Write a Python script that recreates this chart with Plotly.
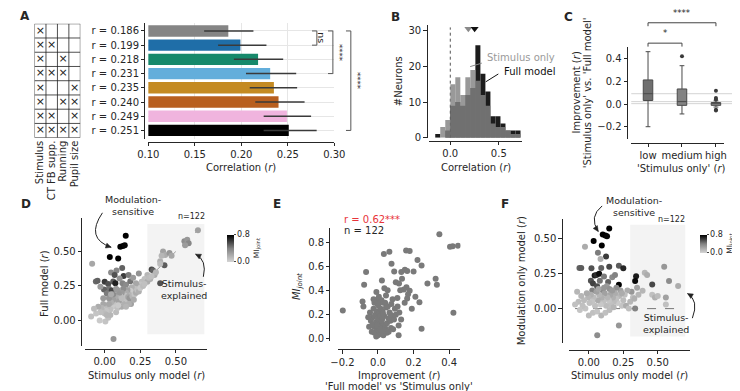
import math
import plotly.graph_objects as go

W, H = 740, 391
FONT = "DejaVu Sans"
INK = "#262626"


def fx(p):
    return p / W


def fy(p):
    return 1 - p / H


# ---------------- data ----------------
MODEL_FEATURES = ["Stimulus", "CT FB supp.", "Running", "Pupil size"]
MODEL_INCLUDES = [
    [1, 0, 0, 0],
    [1, 1, 0, 0],
    [1, 0, 1, 0],
    [1, 1, 1, 0],
    [1, 0, 0, 1],
    [1, 0, 1, 1],
    [1, 1, 0, 1],
    [1, 1, 1, 1],
]
BAR_R = [0.186, 0.199, 0.218, 0.231, 0.235, 0.240, 0.249, 0.251]
BAR_CI_LOW = [0.160, 0.175, 0.192, 0.205, 0.209, 0.215, 0.224, 0.224]
BAR_CI_HIGH = [0.213, 0.227, 0.245, 0.259, 0.260, 0.268, 0.275, 0.281]
BAR_COLORS = ["#858585", "#1f6ea8", "#17896b", "#63aedb",
              "#c48a22", "#b85f1f", "#f0b4de", "#000000"]
BAR_TICKS = [0.10, 0.15, 0.20, 0.25, 0.30]
BAR_SIG = [(0, 1, "ns"), (0, 3, "****"), (0, 7, "****")]

HIST_BIN_START = -0.155
HIST_BIN_WIDTH = 0.0517
HIST_STIM = [0, 3, 5, 15, 17, 12, 17, 19, 16, 12, 9, 4, 3, 3, 2, 1, 1]
HIST_FULL = [1, 0, 2, 9, 10, 9, 12, 14, 26, 18, 13, 6, 6, 4, 2, 2, 2]

BOX_CATS = ["low", "medium", "high"]
BOX_Q1 = [0.032, -0.011, -0.011]
BOX_MED = [0.092, 0.022, 0.004]
BOX_Q3 = [0.214, 0.134, 0.014]
BOX_LO = [-0.200, -0.087, -0.026]
BOX_HI = [0.464, 0.340, 0.029]
BOX_COLORS = ["#6f6f6f", "#838383", "#8c8c8c"]
BOX_OUT_CAT = [1, 2, 2, 2, 2, 2]
BOX_OUT_VAL = [0.423, 0.119, 0.055, 0.040, -0.049, -0.057]

# D: stimulus-only r, full-model r, MI_joint
D_STIM = [0.148, 0.110, 0.128, 0.141, 0.036, 0.095, -0.088, 0.123, 0.083, 0.045,
          0.070, 0.133, 0.168, -0.062, -0.050, 0.000, 0.025, 0.060, 0.075, 0.030,
          0.050, -0.005, 0.015, 0.125, 0.150, 0.180, 0.240, 0.330, 0.340, 0.390,
          0.420, 0.200, 0.105, -0.030, 0.090,
          0.390, 0.410, 0.425, 0.455, 0.470, 0.400, 0.560, 0.580, 0.590, 0.565,
          0.655, 0.390, 0.300, 0.320, 0.280, 0.260, 0.250, 0.300, 0.350, 0.230,
          0.220, 0.210, 0.190, 0.200, 0.180, 0.170, 0.160, 0.150, 0.140, 0.130,
          0.120, 0.110, 0.100, 0.095, 0.085, 0.075, 0.070, 0.060, 0.055, 0.045,
          0.040, 0.030, 0.020, 0.010, 0.000, -0.010, -0.020, -0.030, -0.045, -0.060,
          -0.075, -0.095, -0.035, 0.005, 0.025, 0.040, 0.062, 0.080, 0.090, 0.110,
          0.120, 0.130, 0.140, 0.160, 0.165, 0.175, 0.185, 0.195, 0.210, 0.220,
          0.230, 0.240, 0.250, 0.270, 0.280, 0.100, 0.060, 0.030, -0.010, 0.120,
          0.170, 0.150, 0.205, 0.080, 0.045, 0.015, 0.095, 0.310, 0.360, 0.330]
D_FULL = [0.615, 0.535, 0.540, 0.545, 0.460, 0.450, 0.412, 0.380, 0.362, 0.348,
          0.330, 0.322, 0.330, 0.283, 0.288, 0.280, 0.265, 0.282, 0.270, 0.230,
          0.218, 0.225, 0.195, 0.270, 0.258, 0.285, 0.340, 0.370, 0.362, 0.270,
          0.400, 0.310, 0.305, 0.245, 0.220,
          0.430, 0.500, 0.475, 0.490, 0.470, 0.470, 0.575, 0.585, 0.560, 0.545,
          0.655, 0.410, 0.330, 0.300, 0.300, 0.280, 0.260, 0.280, 0.330, 0.250,
          0.270, 0.230, 0.240, 0.200, 0.215, 0.190, 0.220, 0.200, 0.180, 0.230,
          0.200, 0.175, 0.190, 0.160, 0.140, 0.170, 0.120, 0.150, 0.100, 0.130,
          0.080, 0.160, 0.100, 0.070, 0.050, 0.120, 0.090, 0.060, 0.100, 0.050,
          0.085, 0.028, 0.000, -0.008, 0.020, 0.040, -0.135, 0.060, 0.090, 0.120,
          0.100, 0.140, 0.120, 0.150, 0.170, 0.160, 0.120, 0.175, 0.190, 0.200,
          0.220, 0.210, 0.235, 0.250, 0.265, 0.140, 0.190, 0.120, 0.160, 0.160,
          0.120, 0.100, 0.150, 0.230, 0.190, 0.040, 0.110, 0.310, 0.350, 0.320]
D_MI = [0.80, 0.80, 0.85, 0.78, 0.80, 0.83, 0.22, 0.50, 0.38, 0.35,
        0.55, 0.62, 0.42, 0.48, 0.50, 0.62, 0.55, 0.52, 0.70, 0.45,
        0.58, 0.50, 0.42, 0.40, 0.36, 0.45, 0.32, 0.58, 0.50, 0.55,
        0.52, 0.28, 0.32, 0.28, 0.28,
        0.18, 0.25, 0.20, 0.30, 0.22, 0.15, 0.35, 0.30, 0.38, 0.28,
        0.25, 0.12, 0.15, 0.18, 0.10, 0.12, 0.08, 0.20, 0.20, 0.15,
        0.22, 0.10, 0.18, 0.12, 0.05, 0.15, 0.25, 0.20, 0.10, 0.35,
        0.28, 0.12, 0.30, 0.15, 0.08, 0.20, 0.10, 0.25, 0.05, 0.18,
        0.10, 0.30, 0.12, 0.08, 0.12, 0.22, 0.15, 0.10, 0.20, 0.08,
        0.12, 0.10, 0.05, 0.08, 0.10, 0.15, 0.30, 0.12, 0.10, 0.15,
        0.20, 0.08, 0.18, 0.10, 0.22, 0.30, 0.25, 0.15, 0.08, 0.20,
        0.10, 0.18, 0.06, 0.12, 0.10, 0.25, 0.35, 0.22, 0.28, 0.12,
        0.18, 0.15, 0.20, 0.28, 0.20, 0.15, 0.05, 0.12, 0.15, 0.10]

# E: improvement (full - stimulus only), MI_joint
E_IMPR = [0.345, 0.405, 0.420, 0.450, 0.424, 0.033, 0.064, 0.158, 0.178, 0.076,
          0.222, 0.245, -0.067, 0.091, 0.131, 0.151, 0.164, 0.200, 0.022, -0.078,
          0.100, 0.135, 0.118, 0.160, 0.178, 0.145, 0.125, 0.278, 0.324, 0.331,
          -0.009, 0.036, 0.054, -0.087, -0.082, -0.198, 0.233, 0.082, 0.109, 0.169,
          0.164, 0.116, 0.116, 0.245, 0.073, 0.000, 0.030,
          -0.045, -0.030, -0.020, -0.010, 0.000, 0.010, 0.020, 0.030, 0.040, -0.025,
          -0.015, -0.005, 0.005, 0.015, 0.025, 0.035, 0.045, 0.055, 0.065, -0.040,
          -0.030, -0.020, -0.010, 0.000, 0.010, 0.020, 0.030, 0.040, 0.050, 0.060,
          -0.035, -0.020, -0.005, 0.010, 0.020, 0.035, 0.050, -0.010, 0.005, 0.015,
          -0.050, -0.055, 0.070, 0.080, 0.090, 0.085, 0.095, 0.100, 0.110, 0.120,
          0.130, 0.075, 0.060, 0.025, -0.025, 0.005, 0.045, 0.150, 0.190, 0.210,
          0.070, -0.005, 0.012, 0.028]
E_MI = [0.870, 0.765, 0.770, 0.775, 0.218, 0.705, 0.725, 0.735, 0.730, 0.625,
        0.655, 0.610, 0.555, 0.560, 0.555, 0.575, 0.565, 0.560, 0.485, 0.450,
        0.470, 0.500, 0.460, 0.430, 0.400, 0.410, 0.405, 0.460, 0.500, 0.450,
        0.390, 0.420, 0.405, 0.310, 0.270, 0.235, 0.305, 0.330, 0.340, 0.370,
        0.335, 0.110, 0.030, 0.085, 0.090, 0.030, 0.030,
        0.220, 0.180, 0.300, 0.320, 0.280, 0.300, 0.320, 0.300, 0.300, 0.250,
        0.200, 0.230, 0.210, 0.250, 0.230, 0.190, 0.260, 0.270, 0.220, 0.150,
        0.120, 0.100, 0.140, 0.170, 0.120, 0.150, 0.110, 0.090, 0.130, 0.170,
        0.060, 0.050, 0.080, 0.060, 0.040, 0.070, 0.050, 0.020, 0.100, 0.190,
        0.100, 0.180, 0.150, 0.190, 0.160, 0.080, 0.250, 0.200, 0.270, 0.220,
        0.160, 0.290, 0.060, 0.170, 0.330, 0.350, 0.360, 0.300, 0.250, 0.350,
        0.200, 0.110, 0.080, 0.210]

# F: stimulus-only r, modulation-only r, MI_joint
F_STIM = [0.148, 0.101, 0.120, 0.132, 0.035, -0.028, 0.094, 0.066, 0.125, 0.085,
          -0.068, -0.055, 0.019, 0.090, 0.148, 0.218, 0.250, 0.042, 0.055, 0.075,
          0.015, 0.030, 0.060, 0.080, 0.110, 0.140, 0.170, 0.190, 0.218, 0.343,
          0.336, 0.460, 0.100, 0.130, 0.150, 0.025,
          0.406, 0.423, 0.547, 0.582, 0.648, 0.390, 0.460, 0.480, 0.500, 0.559,
          0.559, 0.336, 0.218, 0.061, 0.350, 0.360, 0.320, 0.300, 0.310, 0.280,
          0.260, 0.250, 0.240, 0.230, 0.220, 0.210, 0.200, 0.190, 0.180, 0.175,
          0.160, 0.155, 0.145, 0.135, 0.125, 0.115, 0.105, 0.095, 0.085, 0.075,
          0.065, 0.055, 0.045, 0.035, 0.025, 0.015, 0.005, -0.005, -0.015, -0.025,
          -0.035, -0.045, -0.055, -0.065, -0.075, -0.085, -0.100, 0.000, 0.030, 0.060,
          0.090, 0.120, 0.150, 0.180, 0.270, 0.290, 0.330, 0.110, 0.200, 0.240,
          0.070, 0.170]
F_MOD = [0.573, 0.530, 0.523, 0.518, 0.483, 0.443, 0.452, 0.400, 0.373, 0.355,
         0.290, 0.290, 0.288, 0.290, 0.300, 0.307, 0.288, 0.236, 0.240, 0.250,
         0.200, 0.180, 0.160, 0.200, 0.230, 0.190, 0.225, 0.240, 0.171, 0.232,
         0.197, 0.172, 0.130, 0.160, 0.140, 0.130,
         0.256, 0.240, 0.300, 0.197, 0.162, 0.127, 0.100, 0.080, 0.090, 0.080,
         0.030, 0.000, -0.120, -0.190, 0.150, 0.100, 0.080, 0.050, 0.120, 0.130,
         0.100, 0.060, 0.020, 0.130, 0.090, 0.040, 0.070, 0.110, 0.050, 0.080,
         0.030, 0.100, 0.060, 0.080, 0.020, 0.110, 0.050, 0.080, 0.030, 0.100,
         0.060, 0.120, 0.020, 0.080, 0.050, 0.100, 0.040, 0.080, 0.110, 0.000,
         0.060, 0.020, 0.090, -0.010, 0.050, 0.120, 0.030, -0.050, -0.030, -0.020,
         -0.050, -0.030, -0.010, 0.010, 0.020, 0.000, 0.070, 0.150, 0.150, 0.110,
         0.140, 0.130]
F_MI = [0.82, 0.80, 0.84, 0.78, 0.80, 0.20, 0.83, 0.42, 0.62, 0.18,
        0.50, 0.52, 0.55, 0.50, 0.58, 0.52, 0.68, 0.72, 0.66, 0.76,
        0.55, 0.60, 0.56, 0.45, 0.42, 0.50, 0.36, 0.40, 0.80, 0.72,
        0.78, 0.58, 0.36, 0.28, 0.32, 0.40,
        0.15, 0.20, 0.30, 0.35, 0.20, 0.15, 0.10, 0.18, 0.12, 0.25,
        0.10, 0.40, 0.30, 0.35, 0.25, 0.15, 0.10, 0.15, 0.30, 0.20,
        0.10, 0.12, 0.08, 0.25, 0.15, 0.05, 0.10, 0.20, 0.12, 0.18,
        0.10, 0.22, 0.08, 0.15, 0.12, 0.25, 0.10, 0.18, 0.06, 0.15,
        0.20, 0.25, 0.10, 0.12, 0.08, 0.18, 0.10, 0.15, 0.20, 0.08,
        0.12, 0.10, 0.15, 0.08, 0.12, 0.15, 0.10, 0.12, 0.10, 0.08,
        0.15, 0.10, 0.12, 0.15, 0.20, 0.10, 0.18, 0.30, 0.35, 0.20,
        0.22, 0.28]

N_NEURONS = 122
E_CORR_TEXT = "r = 0.62***"

# ---------------- helpers ----------------
TICKFONT = dict(family=FONT, size=10, color=INK)
TICKFONT2 = dict(family=FONT, size=10, color=INK)


def xaxis(d0, d1, rng, spine_y, font=TICKFONT, **kw):
    a = dict(domain=[fx(d0), fx(d1)], range=rng, anchor="free", position=fy(spine_y),
             showline=True, linecolor=INK, linewidth=0.8, ticks="outside", ticklen=3.5,
             tickwidth=0.8, tickcolor=INK, showgrid=False, zeroline=False, tickfont=font)
    a.update(kw)
    return a


def yaxis(d0, d1, rng, spine_x, font=TICKFONT, **kw):
    a = dict(domain=[fy(d1), fy(d0)], range=rng, anchor="free", position=fx(spine_x),
             showline=True, linecolor=INK, linewidth=0.8, ticks="outside", ticklen=3.5,
             tickwidth=0.8, tickcolor=INK, showgrid=False, zeroline=False, tickfont=font)
    a.update(kw)
    return a


annotations = []
shapes = []


def text(x, y, s, size=10, color=INK, angle=0, xanchor="center", yanchor="middle", bold=False):
    if bold:
        s = "<b>" + s + "</b>"
    annotations.append(dict(x=fx(x), y=fy(y), xref="paper", yref="paper", text=s,
                            showarrow=False, textangle=angle, xanchor=xanchor,
                            yanchor=yanchor, font=dict(family=FONT, size=size, color=color)))


def pline(x0, y0, x1, y1, color=INK, width=1, dash=None):
    ln = dict(color=color, width=width)
    if dash:
        ln["dash"] = dash
    shapes.append(dict(type="line", xref="paper", yref="paper", x0=fx(x0), y0=fy(y0),
                       x1=fx(x1), y1=fy(y1), line=ln))


def curve_arrow(p0, c, p1):
    path = "M {},{} Q {},{} {},{}".format(fx(p0[0]), fy(p0[1]), fx(c[0]), fy(c[1]),
                                         fx(p1[0]), fy(p1[1]))
    shapes.append(dict(type="path", xref="paper", yref="paper", path=path,
                       line=dict(color="#222", width=1)))
    dx, dy = p1[0] - c[0], p1[1] - c[1]
    n = math.hypot(dx, dy)
    ux, uy = dx / n, dy / n
    bx, by = p1[0] - ux * 5.5, p1[1] - uy * 5.5
    px_, py_ = -uy * 2.6, ux * 2.6
    head = "M {},{} L {},{} L {},{} Z".format(fx(p1[0]), fy(p1[1]), fx(bx + px_), fy(by + py_),
                                              fx(bx - px_), fy(by - py_))
    shapes.append(dict(type="path", xref="paper", yref="paper", path=head,
                       fillcolor="#222", line=dict(color="#222", width=0.5)))


fig = go.Figure()

# ---------------- A: model table ----------------
tx, ty = [], []
for r, row in enumerate(MODEL_INCLUDES):
    for c, v in enumerate(row):
        if v:
            tx.append(c)
            ty.append(r)
fig.add_trace(go.Scatter(x=tx, y=ty, mode="text", text=["×"] * len(tx), xaxis="x7", yaxis="y7",
                         textfont=dict(family=FONT, size=11, color="#222"),
                         hoverinfo="skip", showlegend=False))
nr, nc = len(MODEL_INCLUDES), len(MODEL_FEATURES)
for c in range(nc + 1):
    shapes.append(dict(type="line", xref="x7", yref="y7", x0=c - 0.5, x1=c - 0.5,
                       y0=-0.5, y1=nr - 0.5, line=dict(color="#222", width=0.8)))
for r in range(nr + 1):
    shapes.append(dict(type="line", xref="x7", yref="y7", x0=-0.5, x1=nc - 0.5,
                       y0=r - 0.5, y1=r - 0.5, line=dict(color="#222", width=0.8)))

# ---------------- A: bars ----------------
fig.add_trace(go.Bar(
    x=BAR_R, y=list(range(len(BAR_R))), orientation="h", width=0.8,
    marker=dict(color=BAR_COLORS, line=dict(width=0)),
    error_x=dict(type="data", symmetric=False,
                 array=[h - v for h, v in zip(BAR_CI_HIGH, BAR_R)],
                 arrayminus=[v - l for l, v in zip(BAR_CI_LOW, BAR_R)],
                 color="#3a3a3a", thickness=1.5, width=0),
    xaxis="x", yaxis="y", showlegend=False, hoverinfo="skip"))

sig_x = [(302, 307, 312), (318.5, 323.5, 330), (337, 342, 349)]
for (i0, i1, lab), (xa, xb, xt) in zip(BAR_SIG, sig_x):
    ln = dict(color="#555", width=1)
    shapes.append(dict(type="line", xref="paper", yref="y", x0=fx(xb), x1=fx(xb), y0=i0, y1=i1, line=ln))
    shapes.append(dict(type="line", xref="paper", yref="y", x0=fx(xa), x1=fx(xb), y0=i0, y1=i0, line=ln))
    shapes.append(dict(type="line", xref="paper", yref="y", x0=fx(xa), x1=fx(xb), y0=i1, y1=i1, line=ln))
    annotations.append(dict(x=fx(xt), y=(i0 + i1) / 2, xref="paper", yref="y", text=lab,
                            showarrow=False, textangle=90,
                            font=dict(family=FONT, size=9.5 if lab == "ns" else 8.5, color=INK)))

# ---------------- B: histogram ----------------
centers = [HIST_BIN_START + HIST_BIN_WIDTH * (i + 0.5) for i in range(len(HIST_FULL))]
fig.add_trace(go.Bar(x=centers, y=HIST_FULL, width=HIST_BIN_WIDTH, marker=dict(color="#1c1c1c", line=dict(width=0)),
                     xaxis="x2", yaxis="y2", showlegend=False, hoverinfo="skip"))
fig.add_trace(go.Bar(x=centers, y=HIST_STIM, width=HIST_BIN_WIDTH,
                     marker=dict(color="rgba(131,131,131,0.82)", line=dict(width=0)),
                     xaxis="x2", yaxis="y2", showlegend=False, hoverinfo="skip"))
fig.add_trace(go.Scatter(x=[BAR_R[0], BAR_R[-1]], y=[30.6, 30.6], mode="markers",
                         marker=dict(symbol="triangle-down", size=7, color=["#8a8a8a", "#111"]),
                         cliponaxis=False, xaxis="x2", yaxis="y2", showlegend=False, hoverinfo="skip"))
shapes.append(dict(type="line", xref="x2", yref="y2", x0=0, x1=0, y0=0, y1=31,
                   line=dict(color="#555", width=1, dash="dot"), layer="below"))
pline(465, 59.5, 477, 56, color="#8a8a8a")
text(480, 50, "Stimulus only", color="#9a9a9a", xanchor="left")
pline(481, 75, 494, 67, color="#111")
text(498, 64, "Full model", color="#111", xanchor="left")

# ---------------- C: boxes ----------------
for i in range(len(BOX_CATS)):
    fig.add_trace(go.Box(x=[i], q1=[BOX_Q1[i]], median=[BOX_MED[i]], q3=[BOX_Q3[i]],
                         lowerfence=[BOX_LO[i]], upperfence=[BOX_HI[i]], width=0.28,
                         fillcolor=BOX_COLORS[i], line=dict(color="#4a4a4a", width=1),
                         whiskerwidth=0.5, boxpoints=False, xaxis="x3", yaxis="y3",
                         showlegend=False, hoverinfo="skip"))
fig.add_trace(go.Scatter(x=BOX_OUT_CAT, y=BOX_OUT_VAL, mode="markers",
                         marker=dict(size=4, color="#3a3a3a"), xaxis="x3", yaxis="y3",
                         showlegend=False, hoverinfo="skip"))
for m in BOX_MED:
    shapes.append(dict(type="line", xref="paper", yref="y3", x0=fx(631), x1=fx(737), y0=m, y1=m,
                       line=dict(color="#d4d4d4", width=1), layer="below"))
for (a, b, ybar, lab) in [(0, 1, 35.7, "*"), (0, 2, 15, "****")]:
    ln = dict(color="#444", width=1)
    shapes.append(dict(type="line", xref="x3", yref="paper", x0=a, x1=b, y0=fy(ybar), y1=fy(ybar), line=ln))
    shapes.append(dict(type="line", xref="x3", yref="paper", x0=a, x1=a, y0=fy(ybar), y1=fy(ybar + 3.5), line=ln))
    shapes.append(dict(type="line", xref="x3", yref="paper", x0=b, x1=b, y0=fy(ybar), y1=fy(ybar + 3.5), line=ln))
    annotations.append(dict(x=(a + b) / 2, y=fy(ybar - 3), xref="x3", yref="paper", text=lab,
                            showarrow=False, yanchor="bottom",
                            font=dict(family=FONT, size=8.5, color=INK)))

# ---------------- D ----------------
GREYS = [[0, "#d4d4d4"], [0.5, "#838383"], [1, "#000000"]]
shapes.append(dict(type="rect", xref="x4", yref="y4", x0=0.3, x1=0.7, y0=-0.1, y1=0.7,
                   fillcolor="#f3f3f3", line=dict(width=0), layer="below"))
fig.add_trace(go.Scatter(x=[0, 0.66], y=[0, 0.66], mode="lines", line=dict(color="#999", width=1, dash="dash"),
                         xaxis="x4", yaxis="y4", showlegend=False, hoverinfo="skip"))
fig.add_trace(go.Scatter(x=D_STIM, y=D_FULL, mode="markers",
                         marker=dict(size=6, color=D_MI, coloraxis="coloraxis"),
                         xaxis="x4", yaxis="y4", showlegend=False, hoverinfo="skip"))

# ---------------- E ----------------
fig.add_trace(go.Scatter(x=E_IMPR, y=E_MI, mode="markers", marker=dict(size=6, color="#7a7a7a"),
                         xaxis="x5", yaxis="y5", showlegend=False, hoverinfo="skip"))

# ---------------- F ----------------
shapes.append(dict(type="rect", xref="x6", yref="y6", x0=0.3, x1=0.7, y0=-0.2, y1=0.6,
                   fillcolor="#f3f3f3", line=dict(width=0), layer="below"))
fig.add_trace(go.Scatter(x=[-0.1, 0.66], y=[0, 0], mode="lines", line=dict(color="#777", width=1, dash="dash"),
                         xaxis="x6", yaxis="y6", showlegend=False, hoverinfo="skip"))
fig.add_trace(go.Scatter(x=F_STIM, y=F_MOD, mode="markers",
                         marker=dict(size=6, color=F_MI, coloraxis="coloraxis2"),
                         xaxis="x6", yaxis="y6", showlegend=False, hoverinfo="skip"))


def cbar(x, y0, y1):
    return dict(x=fx(x), xanchor="left", y=fy(y0), yanchor="top", len=y1 - y0, lenmode="pixels",
                thickness=7, thicknessmode="pixels", outlinewidth=0, tickvals=[0, 0.8],
                ticktext=["0.0", "0.8"], ticks="outside", ticklen=2, tickwidth=0.8,
                tickfont=dict(family=FONT, size=8, color=INK),
                title=dict(text="MI<sub>joint</sub>", side="right", font=dict(family=FONT, size=7.5, color=INK)))


# ---------------- texts ----------------
text(6, 8, "A", size=12, bold=True)
text(388, 9, "B", size=12, bold=True)
text(566, 9, "C", size=12, bold=True)
text(7, 199, "D", size=12, bold=True)
text(266, 199, "E", size=12, bold=True)
text(501, 199, "F", size=12, bold=True)

text(229, 162, "Correlation (<i>r</i>)")
text(392, 74, "#Neurons", angle=-90)
text(471, 162, "Correlation (<i>r</i>)")
text(575, 86, "Improvement (<i>r</i>)", angle=-90)
text(586, 86, "'Stimulus only' vs. 'Full model'", angle=-90)
text(683, 163, "'Stimulus only' (<i>r</i>)")

text(27, 280, "Full model (<i>r</i>)", angle=-90)
text(131, 373, "Stimulus only model (<i>r</i>)")
text(117, 201, "Modulation-<br>sensitive", size=9.5)
text(170, 286, "Stimulus-<br>explained", size=9.5)
text(178, 212, "n=" + str(N_NEURONS), size=8)
curve_arrow((86, 208), (68, 234), (95, 243))
curve_arrow((190, 273), (194, 256), (182, 250))

text(287, 283, "<i>MI<sub>joint</sub></i>", angle=-90)
text(392, 373.5, "Improvement (<i>r</i>)")
text(392, 384.5, "'Full model' vs 'Stimulus only'")
text(333, 215, E_CORR_TEXT, color="#e8343a", xanchor="left")
text(333, 226, "n = " + str(N_NEURONS), xanchor="left")

text(518, 277, "Modulation only model (<i>r</i>)", angle=-90)
text(629, 373, "Stimulus only model (<i>r</i>)")
text(634, 202, "Modulation-<br>sensitive", size=9.5)
text(667, 320, "Stimulus-<br>explained", size=9.5)
text(673, 215, "n=" + str(N_NEURONS), size=8)
curve_arrow((601, 201), (587, 212), (597, 227))
curve_arrow((694, 315), (701, 297), (689, 290))

fig.update_layout(
    width=W, height=H, margin=dict(l=0, r=0, t=0, b=0),
    paper_bgcolor="white", plot_bgcolor="rgba(0,0,0,0)",
    font=dict(family=FONT, size=10, color=INK),
    barmode="overlay", boxmode="overlay", showlegend=False,
    xaxis7=dict(domain=[fx(16), fx(63.2)], range=[-0.5, nc - 0.5], anchor="y7",
                showline=False, showgrid=False, zeroline=False, ticks="",
                tickvals=list(range(nc)), ticktext=MODEL_FEATURES, tickangle=-90, tickfont=TICKFONT),
    yaxis7=dict(domain=[fy(131.7), fy(16)], range=[nr - 0.5, -0.5], anchor="x7", visible=False),
    xaxis=xaxis(133.3, 325, [0.1, 0.3], 136, tickvals=BAR_TICKS,
                ticktext=["%.2f" % t for t in BAR_TICKS], showgrid=True, gridcolor="#e6e6e6", gridwidth=0.8),
    yaxis=yaxis(15, 133, [len(BAR_R) - 0.4, -0.575], 129.3, tickvals=list(range(len(BAR_R))),
                ticktext=["r = %.3f" % v for v in BAR_R], showgrid=True, gridcolor="#e6e6e6", gridwidth=0.8),
    xaxis2=xaxis(423, 518, [-0.215, 0.735], 135, tickvals=[0, 0.5], ticktext=["0.0", "0.5"]),
    yaxis2=yaxis(17, 131.7, [0, 31.75], 420, tickvals=[0, 10, 20, 30]),
    xaxis3=xaxis(631, 726.7, [-0.494, 2.24], 136.7, tickvals=[0, 1, 2], ticktext=BOX_CATS),
    yaxis3=yaxis(40, 133.3, [-0.311, 0.502], 626.7, tickvals=[-0.2, 0, 0.2, 0.4],
                 ticktext=["\u22120.2", "0.0", "0.2", "0.4"]),
    xaxis4=xaxis(68.3, 193.3, [-0.1363, 0.7157], 346, font=TICKFONT2, tickvals=[0, 0.25, 0.5],
                 ticktext=["0.00", "0.25", "0.50"]),
    yaxis4=yaxis(213, 343.3, [-0.1857, 0.745], 64, font=TICKFONT2, tickvals=[0, 0.25, 0.5],
                 ticktext=["0.00", "0.25", "0.50"]),
    xaxis5=xaxis(328.3, 455, [-0.2275, 0.4637], 346.7, font=TICKFONT2, tickvals=[-0.2, 0, 0.2, 0.4],
                 ticktext=["\u22120.2", "0.0", "0.2", "0.4"]),
    yaxis5=yaxis(223.3, 338.3, [-0.0188, 0.923], 320, font=TICKFONT2, tickvals=[0, 0.2, 0.4, 0.6, 0.8],
                 ticktext=["0.0", "0.2", "0.4", "0.6", "0.8"]),
    xaxis6=xaxis(567.3, 691.7, [-0.1408, 0.7352], 347.3, font=TICKFONT2, tickvals=[0, 0.25, 0.5],
                 ticktext=["0.00", "0.25", "0.50"]),
    yaxis6=yaxis(214, 340, [-0.2444, 0.643], 559.3, font=TICKFONT2, tickvals=[0, 0.25, 0.5],
                 ticktext=["0.00", "0.25", "0.50"]),
    coloraxis=dict(colorscale=GREYS, cmin=0, cmax=0.8, colorbar=cbar(204, 220, 266.7)),
    coloraxis2=dict(colorscale=GREYS, cmin=0, cmax=0.8, colorbar=cbar(692, 220, 258)),
    annotations=annotations, shapes=shapes,
)

fig.write_html("out.html")
